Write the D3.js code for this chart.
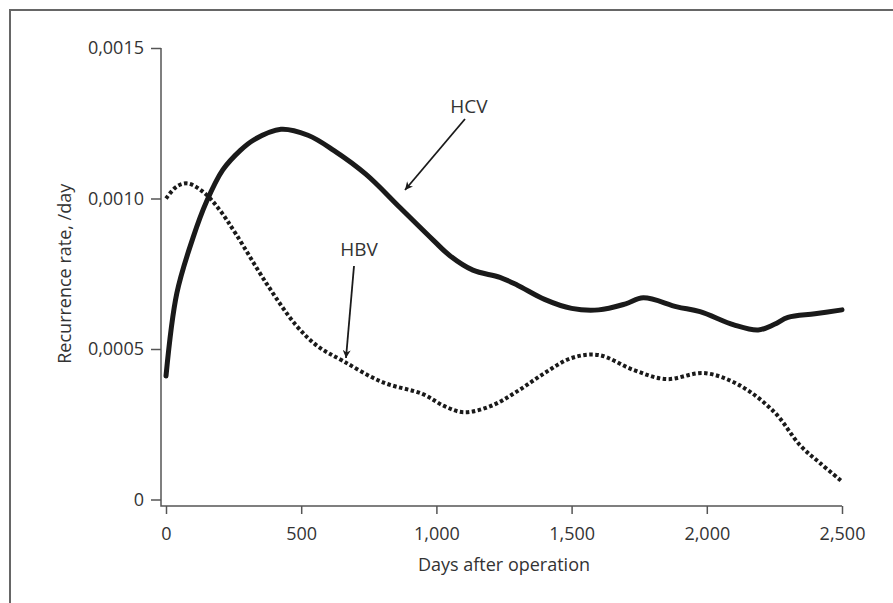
<!DOCTYPE html>
<html>
<head>
<meta charset="utf-8">
<script src="https://cdn.jsdelivr.net/npm/d3@7"></script>
<style>
  body { margin: 0; background: #fff; }
  svg text { font-family: "Open Sans", sans-serif; fill: #333; }
</style>
</head>
<body>
<svg id="chart" width="893" height="603"></svg>
<script>
// days after operation / recurrence rate per day
const hcvDays = [0, 40, 100, 150, 210, 275, 325, 425, 525, 620, 740, 865, 990, 1050, 1135, 1235, 1300, 1400, 1500, 1600, 1700, 1765, 1890, 1975, 2100, 2190, 2250, 2300, 2400, 2500];
const hcvRate = [0.00041, 0.000685, 0.00087, 0.00099, 0.001095, 0.00116, 0.001195, 0.00123, 0.00121, 0.00116, 0.00108, 0.00097, 0.00086, 0.00081, 0.000762, 0.000738, 0.000712, 0.000665, 0.000635, 0.00063, 0.00065, 0.00067, 0.00064, 0.000624, 0.00058, 0.000563, 0.000582, 0.000605, 0.000617, 0.00063];

const hbvDays = [0, 40, 80, 140, 200, 260, 370, 480, 560, 655, 800, 950, 1030, 1100, 1200, 1300, 1400, 1500, 1600, 1730, 1850, 1990, 2120, 2250, 2345, 2420, 2500];
const hbvRate = [0.001, 0.00104, 0.00105, 0.00102, 0.00096, 0.00088, 0.00072, 0.00058, 0.00051, 0.00046, 0.00039, 0.00035, 0.00031, 0.00029, 0.00031, 0.00036, 0.00042, 0.00047, 0.00048, 0.00043, 0.0004, 0.00042, 0.00038, 0.00029, 0.00018, 0.00012, 0.00006];

const xTicks = [0, 500, 1000, 1500, 2000, 2500];
const xTickLabels = ["0", "500", "1,000", "1,500", "2,000", "2,500"];
const yTicks = [0, 0.0005, 0.001, 0.0015];
const yTickLabels = ["0", "0,0005", "0,0010", "0,0015"];

const svg = d3.select("#chart");

// frame round the figure (open at right and bottom edge)
svg.append("rect")
    .attr("x", 10).attr("y", 10)
    .attr("width", 900).attr("height", 620)
    .attr("fill", "none")
    .attr("stroke", "#666")
    .attr("stroke-width", 2);

const x = d3.scaleLinear().domain([0, 2500]).range([166, 842]);
const y = d3.scaleLinear().domain([0, 0.0015]).range([499.5, 48]);

const axisX = 161, axisY = 506;

// y axis
const yAxis = d3.axisLeft(y)
    .tickValues(yTicks)
    .tickFormat((d, i) => yTickLabels[i])
    .tickSize(10)
    .tickPadding(7);
const gy = svg.append("g")
    .attr("transform", "translate(" + axisX + ",0)")
    .call(yAxis);
gy.select(".domain").remove();
gy.selectAll("line").attr("stroke", "#555").attr("stroke-width", 1.5);
gy.selectAll("text").style("font-size", "18px").attr("fill", "#333");

// x axis
const xAxis = d3.axisBottom(x)
    .tickValues(xTicks)
    .tickFormat((d, i) => xTickLabels[i])
    .tickSize(8)
    .tickPadding(13);
const gx = svg.append("g")
    .attr("transform", "translate(0," + axisY + ")")
    .call(xAxis);
gx.select(".domain").remove();
gx.selectAll("line").attr("stroke", "#555").attr("stroke-width", 1.5);
gx.selectAll("text").style("font-size", "18px").attr("fill", "#333");

// axis lines
svg.append("path")
    .attr("d", "M" + axisX + "," + y(0.0015) + "V" + axisY + "H" + x(2500))
    .attr("fill", "none")
    .attr("stroke", "#555")
    .attr("stroke-width", 1.5);

// axis titles
svg.append("text")
    .attr("transform", "translate(71," + ((y(0) + y(0.0015)) / 2) + ") rotate(-90)")
    .attr("text-anchor", "middle")
    .style("font-size", "18px")
    .text("Recurrence rate, /day");

svg.append("text")
    .attr("x", (x(0) + x(2500)) / 2)
    .attr("y", 571)
    .attr("text-anchor", "middle")
    .style("font-size", "18px")
    .text("Days after operation");

// curves
const line = d3.line()
    .x(d => x(d[0]))
    .y(d => y(d[1]))
    .curve(d3.curveCatmullRom.alpha(0.5));

svg.append("path")
    .datum(d3.zip(hcvDays, hcvRate))
    .attr("d", line)
    .attr("fill", "none")
    .attr("stroke", "#1a1a1a")
    .attr("stroke-width", 5)
    .attr("stroke-linecap", "round");

svg.append("path")
    .datum(d3.zip(hbvDays, hbvRate))
    .attr("d", line)
    .attr("fill", "none")
    .attr("stroke", "#1a1a1a")
    .attr("stroke-width", 4)
    .attr("stroke-dasharray", "3.5,2.5");

// arrow labels
svg.append("defs").append("marker")
    .attr("id", "arrow")
    .attr("viewBox", "0 0 10 10")
    .attr("refX", 10).attr("refY", 5)
    .attr("markerWidth", 9).attr("markerHeight", 8)
    .attr("orient", "auto")
    .attr("markerUnits", "userSpaceOnUse")
    .append("path")
    .attr("d", "M0,0L10,5L0,10L3,5Z")
    .attr("fill", "#1a1a1a");

const notes = [
    { label: "HCV", tx: 469, ty: 113, x1: 465, y1: 119, x2: 405, y2: 190 },
    { label: "HBV", tx: 359, ty: 256, x1: 354, y1: 266, x2: 346, y2: 358 }
];

notes.forEach(function (n) {
    svg.append("text")
        .attr("x", n.tx).attr("y", n.ty)
        .attr("text-anchor", "middle")
        .style("font-size", "19px")
        .text(n.label);
    svg.append("line")
        .attr("x1", n.x1).attr("y1", n.y1)
        .attr("x2", n.x2).attr("y2", n.y2)
        .attr("stroke", "#1a1a1a")
        .attr("stroke-width", 1.8)
        .attr("marker-end", "url(#arrow)");
});
</script>
</body>
</html>
